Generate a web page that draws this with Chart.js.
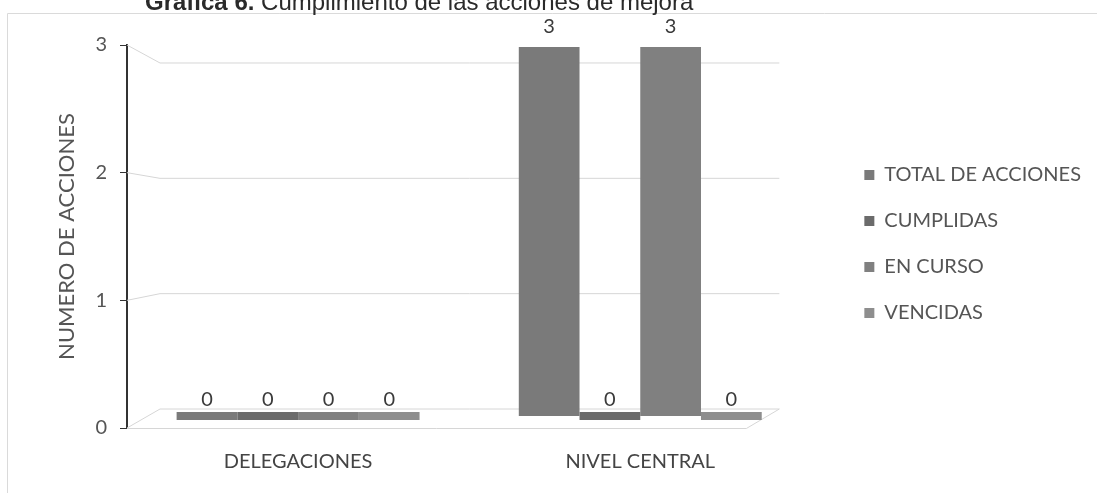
<!DOCTYPE html>
<html>
<head>
<meta charset="utf-8">
<script src="https://cdn.jsdelivr.net/npm/chart.js@4.4.1/dist/chart.umd.min.js"></script>
<style>
  html, body { margin: 0; padding: 0; background: #fff; overflow: hidden; }
  #wrap { width: 1097px; height: 493px; position: relative; }
</style>
</head>
<body>
<div id="wrap"><canvas id="c" width="1097" height="493"></canvas></div>
<script>
// Categories and series
const categories = ['DELEGACIONES', 'NIVEL CENTRAL'];
const seriesNames = ['TOTAL DE ACCIONES', 'CUMPLIDAS', 'EN CURSO', 'VENCIDAS'];
const totalAcciones = [0, 3];
const cumplidas = [0, 0];
const enCurso = [0, 3];
const vencidas = [0, 0];
const yTickValues = [0, 1, 2, 3];

const seriesColors = ['#7a7a7a', '#6b6b6b', '#808080', '#8e8e8e'];
const seriesData = [totalAcciones, cumplidas, enCurso, vencidas];

const FONT = 'Lato, "Open Sans", sans-serif';

// Frame and partially visible heading
const framePlugin = {
  id: 'frame',
  beforeDraw(chart) {
    const ctx = chart.ctx;
    ctx.save();
    ctx.strokeStyle = '#dadada';
    ctx.lineWidth = 1;
    ctx.beginPath();
    ctx.moveTo(7.5, 493);
    ctx.lineTo(7.5, 13.5);
    ctx.lineTo(1097, 13.5);
    ctx.stroke();
    ctx.restore();
  },
  afterDraw(chart) {
    const ctx = chart.ctx;
    ctx.save();
    ctx.fillStyle = '#2a2a2a';
    ctx.textBaseline = 'alphabetic';
    ctx.font = 'bold 24px "Liberation Sans", Arial, sans-serif';
    const lead = 'Gráfica 6.';
    ctx.fillText(lead, 145, 10);
    const w = ctx.measureText(lead + ' ').width;
    ctx.font = '24px "Liberation Sans", Arial, sans-serif';
    ctx.fillText('Cumplimiento de las acciones de mejora', 145 + w, 10);
    ctx.restore();
  }
};

// Perspective walls: gridlines leave the front axis and run along the back wall
const wallPlugin = {
  id: 'walls',
  beforeDatasetsDraw(chart) {
    const ctx = chart.ctx;
    const area = chart.chartArea;
    const yFront = chart.scales.y;
    const yBack = chart.scales.yBack;
    const depth = 33;
    const backRight = area.right - 32;
    ctx.save();
    ctx.strokeStyle = '#d6d6d6';
    ctx.lineWidth = 1;
    yTickValues.forEach(v => {
      const fy = yFront.getPixelForValue(v);
      const by = yBack.getPixelForValue(v);
      ctx.beginPath();
      ctx.moveTo(area.left, fy);
      ctx.lineTo(area.left + depth, by);
      ctx.lineTo(backRight, by);
      ctx.stroke();
    });
    // front edge of the floor
    const f0 = yFront.getPixelForValue(0);
    ctx.beginPath();
    ctx.moveTo(area.left, f0 + 0.5);
    ctx.lineTo(backRight - depth, f0 + 0.5);
    ctx.lineTo(backRight, yBack.getPixelForValue(0));
    ctx.stroke();
    ctx.restore();
  }
};

// Value labels above each bar
const valueLabels = {
  id: 'valueLabels',
  afterDatasetsDraw(chart) {
    const ctx = chart.ctx;
    ctx.save();
    ctx.fillStyle = '#3a3a3a';
    ctx.font = '20px ' + FONT;
    ctx.textAlign = 'center';
    ctx.textBaseline = 'middle';
    chart.data.datasets.forEach((ds, i) => {
      chart.getDatasetMeta(i).data.forEach((bar, j) => {
        ctx.fillText(String(ds.data[j]), bar.x, bar.y - 20);
      });
    });
    ctx.restore();
  }
};

new Chart(document.getElementById('c'), {
  type: 'bar',
  data: {
    labels: categories,
    datasets: seriesNames.map((name, i) => ({
      label: name,
      data: seriesData[i],
      backgroundColor: seriesColors[i],
      borderWidth: 0,
      yAxisID: 'yBar',
      minBarLength: 8,
      categoryPercentage: 0.71,
      barPercentage: 1.0
    }))
  },
  options: {
    responsive: false,
    animation: false,
    devicePixelRatio: 1,
    layout: { padding: { left: 0, top: 45, right: 6, bottom: 0 } },
    plugins: {
      legend: {
        position: 'right',
        align: 'center',
        fullSize: false,
        maxWidth: 400,
        title: { display: true, text: ' ', font: { size: 10 }, padding: { top: 3, bottom: 0 } },
        labels: {
          boxWidth: 10,
          boxHeight: 10,
          padding: 26,
          color: '#555',
          font: { family: FONT, size: 20 }
        }
      },
      tooltip: { enabled: false },
      title: { display: false }
    },
    scales: {
      x: {
        type: 'category',
        offset: true,
        grid: { display: false, drawTicks: false },
        border: { display: false },
        ticks: { color: '#444', font: { family: FONT, size: 20 }, padding: 22 },
        afterFit(s) { s.height = 65; }
      },
      y: {
        position: 'left',
        min: 0,
        max: 3,
        ticks: { stepSize: 1, color: '#555', font: { family: FONT, size: 20 }, padding: 13 },
        grid: { drawOnChartArea: false, tickLength: 7, color: '#333' },
        border: { color: '#333', width: 2 },
        title: {
          display: true,
          text: 'NUMERO DE ACCIONES',
          color: '#555',
          font: { family: FONT, size: 22 },
          padding: { top: 54, bottom: 0 }
        },
        afterFit(s) { s.width = 127; }
      },
      yBar: { display: false, min: -0.0976, max: 3.016 },
      yBack: { display: false, min: -0.1647, max: 3.156 },
      yGap: {
        position: 'right',
        display: true,
        grid: { display: false },
        border: { display: false },
        ticks: { display: false },
        afterFit(s) { s.width = 27; }
      }
    }
  },
  plugins: [framePlugin, wallPlugin, valueLabels]
});
</script>
</body>
</html>
